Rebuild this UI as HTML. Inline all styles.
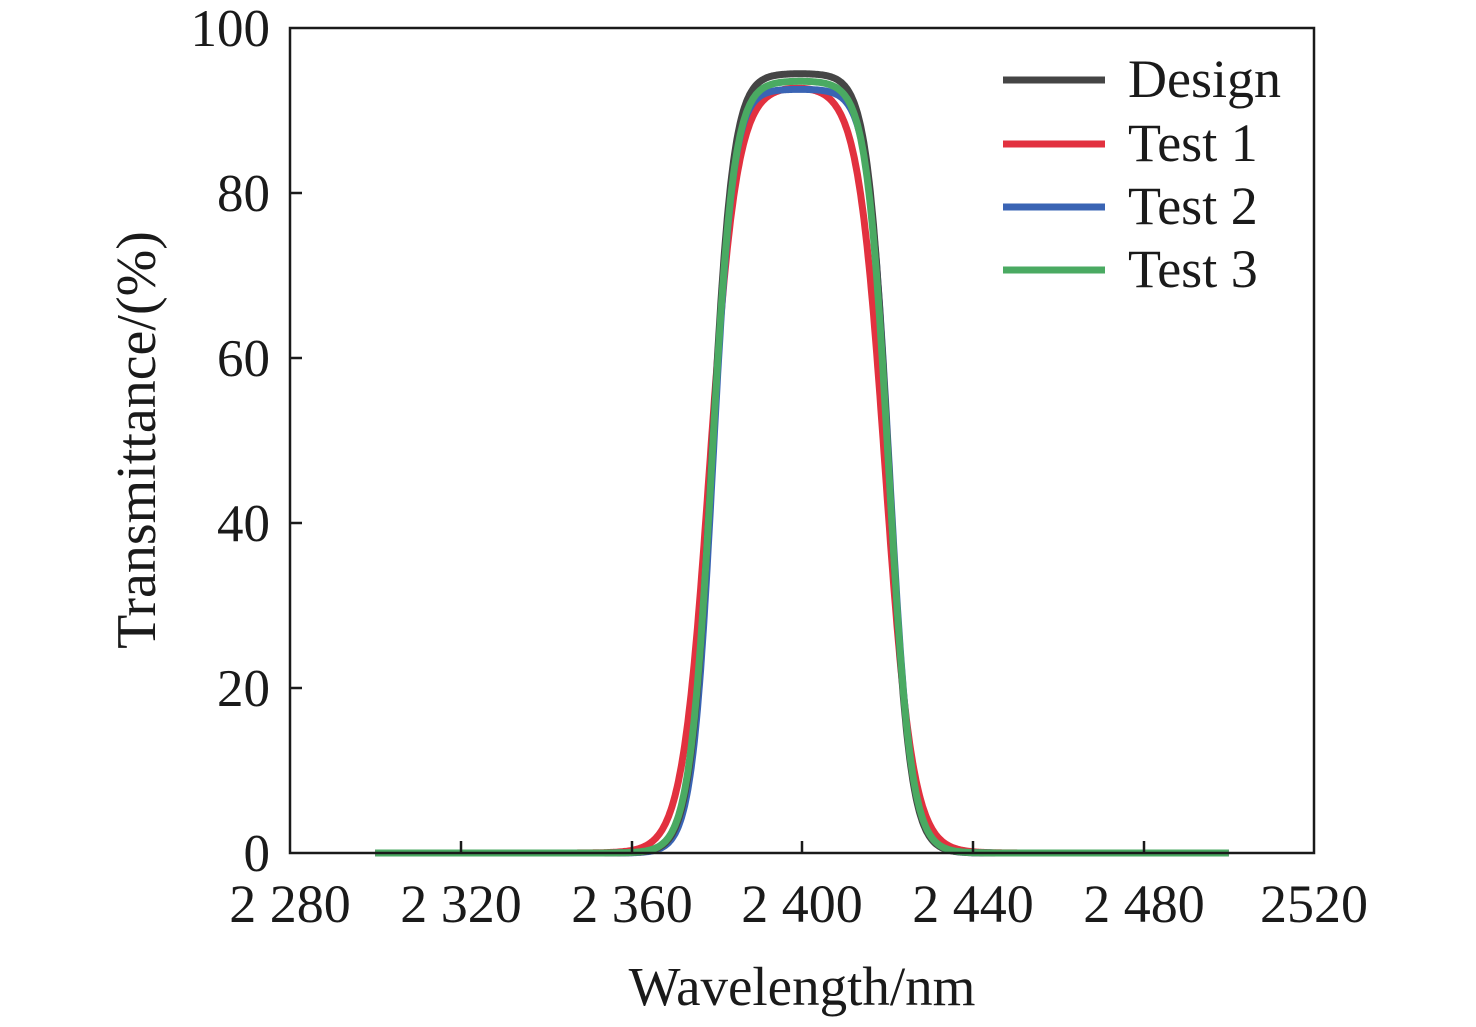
<!DOCTYPE html>
<html><head><meta charset="utf-8"><style>
body{margin:0;background:#fff;}
text{font-family:"Liberation Serif",serif;fill:#1a1a1a;}
</style></head><body>
<svg id="s" width="1476" height="1022" xmlns="http://www.w3.org/2000/svg">
<g id="curves" fill="none" stroke-width="7" stroke-linejoin="round"></g>
<rect x="290" y="28" width="1024" height="825" fill="none" stroke="#1a1a1a" stroke-width="2.5"/>
<g stroke="#1a1a1a" stroke-width="2.5">
<line x1="461" y1="853" x2="461" y2="841"/><line x1="632" y1="853" x2="632" y2="841"/>
<line x1="802" y1="853" x2="802" y2="841"/><line x1="973" y1="853" x2="973" y2="841"/>
<line x1="1144" y1="853" x2="1144" y2="841"/>
<line x1="290" y1="193" x2="302" y2="193"/><line x1="290" y1="358" x2="302" y2="358"/>
<line x1="290" y1="523" x2="302" y2="523"/><line x1="290" y1="688" x2="302" y2="688"/>
</g>
<g font-size="53" text-anchor="end">
<text x="270" y="46">100</text><text x="270" y="211">80</text><text x="270" y="376">60</text>
<text x="270" y="541">40</text><text x="270" y="706">20</text><text x="270" y="871">0</text>
</g>
<g font-size="54" text-anchor="middle">
<text x="290" y="922">2 280</text><text x="461" y="922">2 320</text><text x="632" y="922">2 360</text>
<text x="802" y="922">2 400</text><text x="973" y="922">2 440</text><text x="1144" y="922">2 480</text>
<text x="1314" y="922">2520</text>
<text x="802" y="1005" font-size="55">Wavelength/nm</text>
<text transform="translate(155,440) rotate(-90)" font-size="56">Transmittance/(%)</text>
</g>
<g stroke-width="7">
<line x1="1003" y1="80" x2="1105" y2="80" stroke="#454545"/>
<line x1="1003" y1="144" x2="1105" y2="144" stroke="#e2313f"/>
<line x1="1003" y1="207" x2="1105" y2="207" stroke="#3a64b4"/>
<line x1="1003" y1="270" x2="1105" y2="270" stroke="#4aaa62"/>
</g>
<g font-size="54">
<text x="1128" y="97">Design</text><text x="1128" y="161">Test 1</text>
<text x="1128" y="224">Test 2</text><text x="1128" y="287">Test 3</text>
</g>
</svg>
<script>
var g=document.getElementById('curves');
function X(l){return 290+(l-2280)*1024/240;}
function Y(t){return 853-t*8.25;}
function sig(z){return 1/(1+Math.exp(-z));}
var ser=[["#e2313f",93,2378.3,3.2,2419.5,3.2],["#3a64b4",92.6,2379,2.4,2420.5,2.5],["#454545",94.5,2378.8,2.5,2420.3,2.5],["#4aaa62",93.6,2378.8,2.6,2420.3,2.6]];
ser.forEach(function(s){var d="";for(var l=2300;l<=2500;l+=0.25){var t=s[1]*sig((l-s[2])/s[3])*sig((s[4]-l)/s[5]);d+=(d?"L":"M")+X(l).toFixed(1)+","+Y(t).toFixed(1);}
var p=document.createElementNS("http://www.w3.org/2000/svg","path");p.setAttribute("d",d);p.setAttribute("stroke",s[0]);g.appendChild(p);});
</script>
</body></html>
